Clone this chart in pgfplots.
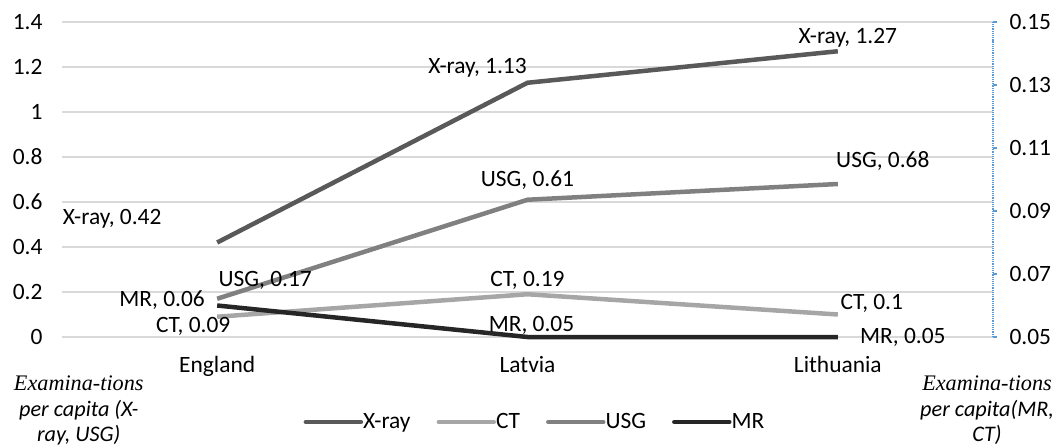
\documentclass[border=0pt]{standalone}
\usepackage{fontspec}
\setmainfont{Carlito}
\newfontfamily\timesfont{Liberation Serif}
\usepackage{pgfplots}
\usepackage{pgfplotstable}
\pgfplotsset{compat=1.18}

\definecolor{xraycol}{HTML}{595959}
\definecolor{ctcol}{HTML}{A6A6A6}
\definecolor{usgcol}{HTML}{808080}
\definecolor{mrcol}{HTML}{262626}
\definecolor{gridgray}{HTML}{D9D9D9}
\definecolor{axisblue}{HTML}{5B9BD5}

\newcommand\fs{\fontsize{23.5}{25.5}\selectfont}
\newcommand\fst{\fontsize{22.3}{25.5}\selectfont}

% examinations per capita; lx, ly = label offset (bp) from the point
\pgfplotstableread{
x y    val  lx   ly
0 0.42 0.42 -105 24
1 1.13 1.13 -50  15
2 1.27 1.27  10  13
}\xray
\pgfplotstableread{
x y    val  lx  ly
0 0.09 0.09 -24 -10
1 0.19 0.19  0  14
2 0.10 0.1   34  11
}\ct
\pgfplotstableread{
x y    val  lx  ly
0 0.17 0.17  48  18
1 0.61 0.61  0   20
2 0.68 0.68  45  23
}\usg
\pgfplotstableread{
x y    val  lx  ly
0 0.06 0.06 -55  5
1 0.05 0.05  4   12
2 0.05 0.05  65  0
}\mr

\pgfplotsset{
  series/.style={
    line width=4.5bp, line join=round, no markers,
    visualization depends on={\thisrow{lx} \as \lx},
    visualization depends on={\thisrow{ly} \as \ly},
    point meta=explicit symbolic,
    nodes near coords={#1, \pgfplotspointmeta},
    nodes near coords style={font=\fs, text=black, anchor=center,
      xshift=\lx bp, yshift=\ly bp, inner sep=0pt},
  },
  common/.style={
    at={(0,0)}, anchor=south west,
    scale only axis, width=931bp, height=315bp,
    xmin=-0.5, xmax=2.5, clip=false,
    tick label style={font=\fs},
    /pgf/number format/assume math mode=true,
  },
}

\begin{document}
\begin{tikzpicture}
\path[use as bounding box] (-62bp,-109bp) rectangle (993bp,337bp);

\begin{axis}[common,
  ymin=0, ymax=1.4,
  xtick={0,1,2}, xticklabels={England,Latvia,Lithuania},
  ytick={0,0.2,0.4,0.6,0.8,1,1.2,1.4},
  yticklabels={0,0.2,0.4,0.6,0.8,1,1.2,1.4},
  ymajorgrids, grid style={draw=gridgray, line width=1.3bp},
  axis line style={draw=none},
  major tick length=0pt,
  yticklabel style={xshift=-16bp},
  xticklabel style={yshift=-16bp},
]
\addplot[series=X-ray, draw=xraycol] table[x=x, y=y, meta=val] {\xray};
\addplot[series=CT, draw=ctcol] table[x=x, y=y, meta=val] {\ct};
\addplot[series=USG, draw=usgcol] table[x=x, y=y, meta=val] {\usg};

\node[align=center, anchor=north, font=\fst\itshape, inner sep=2bp]
  at (rel axis cs:0.018,-0.117)
  {{\timesfont\itshape Examina-tions}\\per capita (X-\\ray, USG)};
\node[align=center, anchor=north, font=\fst\itshape, inner sep=2bp]
  at (rel axis cs:0.9936,-0.117)
  {{\timesfont\itshape Examina-tions}\\per capita(MR,\\CT)};
\end{axis}

\begin{axis}[common,
  ymin=0.05, ymax=0.15,
  axis x line=none,
  axis y line*=right,
  ytick={0.05,0.07,0.09,0.11,0.13,0.15},
  yticklabels={0.05,0.07,0.09,0.11,0.13,0.15},
  y axis line style={draw=axisblue, densely dotted, line width=1.2bp},
  ytick style={draw=axisblue, line width=1.2bp},
  major tick length=4bp, tick align=outside,
  yticklabel style={xshift=9bp},
  legend columns=4,
  legend style={draw=none, fill=none, font=\fs,
    at={(0.508,-0.27)}, anchor=center,
    /tikz/every even column/.append style={column sep=24bp},
    /tikz/every odd column/.append style={column sep=-2bp}},
  legend image code/.code={
    \draw[#1, line width=4.5bp, line cap=round] (0bp,0bp) -- (55bp,0bp);},
]
\addlegendimage{draw=xraycol}
\addlegendentry{X-ray}
\addlegendimage{draw=ctcol}
\addlegendentry{CT}
\addlegendimage{draw=usgcol}
\addlegendentry{USG}
\addplot[series=MR, draw=mrcol] table[x=x, y=y, meta=val] {\mr};
\addlegendentry{MR}
\end{axis}
\end{tikzpicture}
\end{document}
